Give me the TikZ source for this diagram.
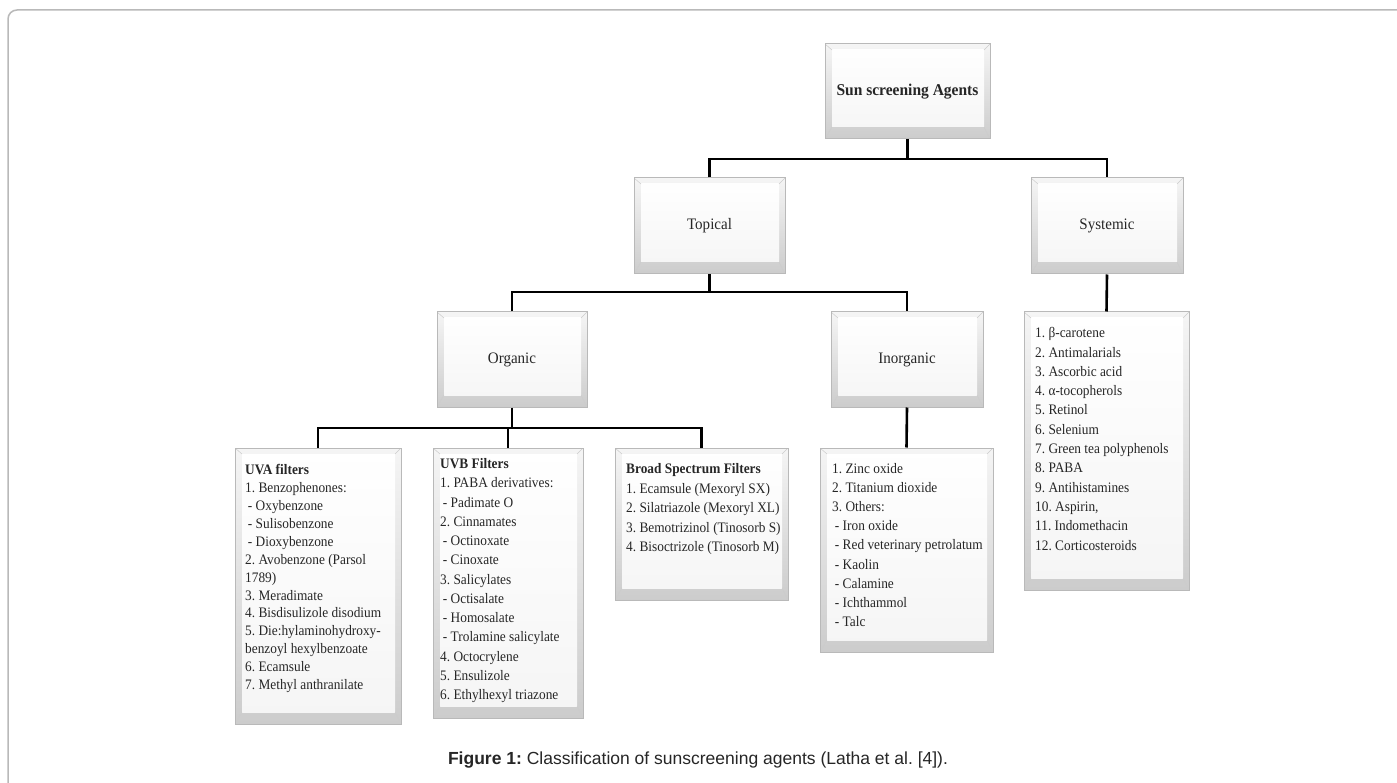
\documentclass[tikz,border=0pt]{standalone}
\usepackage{fontspec}
\setmainfont{Liberation Serif}
\newfontfamily\capfont{Liberation Sans}
\usepackage{graphicx}
\frenchspacing
\newcommand{\sqz}[1]{\scalebox{0.94}[1]{#1}}
\newcommand{\lsqz}[1]{\scalebox{0.92}[1]{#1}}
\newcommand{\lst}[1]{\lsqz{\begin{tabular}{@{}l@{}}#1\end{tabular}}}
\newcommand{\sub}{\hspace{3pt}}
\tikzset{
  bevelbox/.style={rectangle, draw=gray!55, line width=1pt, inner sep=0pt,
    top color=gray!8, bottom color=gray!40, text=black!85,
    path picture={
      \shade[top color=white, bottom color=gray!8]
        ([xshift=7pt,yshift=-6pt]path picture bounding box.north west) rectangle
        ([xshift=-6pt,yshift=12pt]path picture bounding box.south east);
      \draw[gray!40, line width=0.5pt] (path picture bounding box.north west) -- ++(7pt,-6pt);
      \draw[gray!40, line width=0.5pt] (path picture bounding box.north east) -- ++(-6pt,-6pt);
      \draw[gray!40, line width=0.5pt] (path picture bounding box.south west) -- ++(7pt,12pt);
      \draw[gray!40, line width=0.5pt] (path picture bounding box.south east) -- ++(-6pt,12pt);
    }},
  lvl/.style={bevelbox, font=\fontsize{16}{18}\selectfont},
  listtext/.style={anchor=north west, inner sep=0pt, text=black!85},
  conn/.style={draw=black, line width=2.6pt}
}
\begin{document}
\begin{tikzpicture}[x=1pt, y=-1pt]
\useasboundingbox (0,0) rectangle (1397,783);
\clip (0,0) rectangle (1397,783);
\fill[white] (0,0) rectangle (1397,783);
% outer frame
\draw[gray!55, line width=1.5pt, rounded corners=9pt] (8,800) -- (8,10) -- (1420,10);

% boxes
\node[bevelbox, minimum width=165pt, minimum height=95pt, font=\bfseries\fontsize{16.5}{18}\selectfont] (root) at (907.5,91.5) {\sqz{Sun screening Agents}};
\node[lvl, minimum width=151pt, minimum height=96pt] (topical) at (709.5,226) {\sqz{Topical}};
\node[lvl, minimum width=152pt, minimum height=96pt] (systemic) at (1107,226) {\sqz{Systemic}};
\node[lvl, minimum width=150pt, minimum height=95pt] (organic) at (512,359.5) {\sqz{Organic}};
\node[lvl, minimum width=152pt, minimum height=95pt] (inorganic) at (907,359.5) {\sqz{Inorganic}};

\node[bevelbox, minimum width=166pt, minimum height=276pt] (uva) at (318,586) {};
\node[bevelbox, minimum width=150pt, minimum height=270pt] (uvb) at (508,583) {};
\node[bevelbox, minimum width=173pt, minimum height=152pt] (broad) at (701.5,524) {};
\node[bevelbox, minimum width=173pt, minimum height=204pt] (inorgL) at (906.5,550) {};
\node[bevelbox, minimum width=165pt, minimum height=278pt] (sysL) at (1106.5,451) {};

% connectors
\draw[conn] (root.south) -- (root.south |- 0,159);
\draw[conn] (topical.north) |- (systemic.north |- 0,159) -- (systemic.north);
\draw[conn] (topical.south) -- (topical.south |- 0,292);
\draw[conn] (organic.north) |- (inorganic.north |- 0,292) -- (inorganic.north);
\draw[conn] (organic.south) -- (organic.south |- 0,428);
\draw[conn] (uva.north) |- (broad.north |- 0,428) -- (broad.north);
\draw[conn] (uvb.north) -- (uvb.north |- 0,428);
\draw[conn] (inorganic.south) -- (inorgL.north);
\draw[conn] (systemic.south) -- (sysL.north);

% list texts
\node[listtext, font=\fontsize{14.5}{17.9}\selectfont] (uvaT) at (245,462) {\lst{\textbf{UVA filters}\\
1. Benzophenones:\\
\sub- Oxybenzone\\
\sub- Sulisobenzone\\
\sub- Dioxybenzone\\
2. Avobenzone (Parsol\\
1789)\\
3. Meradimate\\
4. Bisdisulizole disodium\\
5. Die:hylaminohydroxy-\\
benzoyl hexylbenzoate\\
6. Ecamsule\\
7. Methyl anthranilate}};

\node[listtext, font=\fontsize{14.5}{19.25}\selectfont] (uvbT) at (440,455) {\lst{\textbf{UVB Filters}\\
1. PABA derivatives:\\
\sub- Padimate O\\
2. Cinnamates\\
\sub- Octinoxate\\
\sub- Cinoxate\\
3. Salicylates\\
\sub- Octisalate\\
\sub- Homosalate\\
\sub- Trolamine salicylate\\
4. Octocrylene\\
5. Ensulizole\\
6. Ethylhexyl triazone}};

\node[listtext, font=\fontsize{14.5}{19.5}\selectfont] (broadT) at (626,460) {\lst{\textbf{Broad Spectrum Filters}\\
1. Ecamsule (Mexoryl SX)\\
2. Silatriazole (Mexoryl XL)\\
3. Bemotrizinol (Tinosorb S)\\
4. Bisoctrizole (Tinosorb M)}};

\node[listtext, font=\fontsize{14.5}{19.1}\selectfont] (inorgT) at (832,460) {\lst{1. Zinc oxide\\
2. Titanium dioxide\\
3. Others:\\
\sub- Iron oxide\\
\sub- Red veterinary petrolatum\\
\sub- Kaolin\\
\sub- Calamine\\
\sub- Ichthammol\\
\sub- Talc}};

\node[listtext, font=\fontsize{14.5}{19.3}\selectfont] (sysT) at (1035,324) {\lst{1. β-carotene\\
2. Antimalarials\\
3. Ascorbic acid\\
4. α-tocopherols\\
5. Retinol\\
6. Selenium\\
7. Green tea polyphenols\\
8. PABA\\
9. Antihistamines\\
10. Aspirin,\\
11. Indomethacin\\
12. Corticosteroids}};

% caption
\node[font=\capfont\fontsize{17.5}{20}\selectfont, text=black!85] (cap) at (698,760) {\textbf{Figure 1:} Classification of sunscreening agents (Latha et al. [4]).};
\end{tikzpicture}
\end{document}
